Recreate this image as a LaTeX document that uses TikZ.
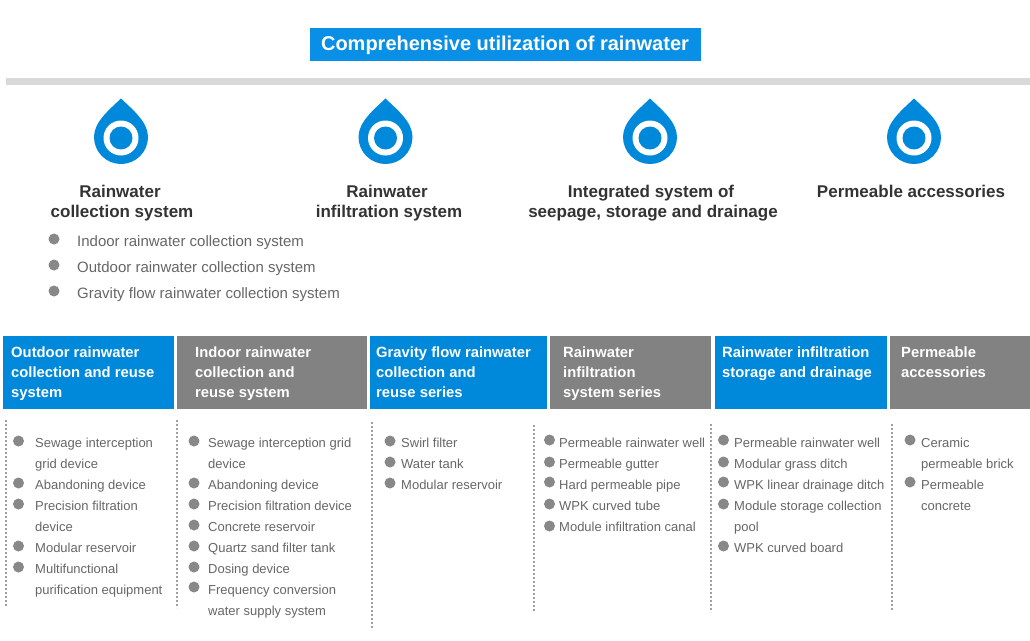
\documentclass[tikz,border=0pt]{standalone}
\usepackage{fontspec}
\setmainfont{Liberation Sans}
\definecolor{rainblue}{HTML}{0089DB}
\definecolor{titleblue}{HTML}{0A8FE6}
\definecolor{headgray}{HTML}{828282}
\definecolor{bulgray}{HTML}{888888}
\definecolor{itemgray}{HTML}{666666}
\tikzset{
	headbox/.style={rectangle,inner sep=0pt,minimum height=73pt,anchor=north west,text=white},
	headtext/.style={inner sep=0pt,anchor=base west,text=white,font=\fontsize{14.8}{20}\selectfont\bfseries},
	systitle/.style={inner sep=0pt,anchor=base,text=black!80,font=\fontsize{17}{20}\selectfont\bfseries},
	itemtext/.style={inner sep=0pt,anchor=base west,text=itemgray,font=\fontsize{13}{21}\selectfont},
	bigitem/.style={inner sep=0pt,anchor=base west,text=itemgray,font=\fontsize{15}{21}\selectfont},
	bul/.style={circle,fill=bulgray,inner sep=0pt,minimum size=11pt},
	sepline/.style={bulgray!80,line width=1.5pt,dash pattern=on 2pt off 2pt},
	dropicon/.pic={
		\fill[rainblue] (0,-38.5) .. controls (-12,-27) and (-27,-15) .. (-27,0)
			arc[start angle=180,end angle=0,radius=27]
			.. controls (27,-15) and (12,-27) .. (0,-38.5) -- cycle;
		\fill[white] (0,1) circle (17.5);
		\fill[rainblue] (0,1) circle (11.5);
	}
}
\begin{document}
\begin{tikzpicture}[x=1pt,y=-1pt]
	\useasboundingbox (0,0) rectangle (1030,640);

	\node [rectangle,fill=titleblue,minimum width=391pt,minimum height=33pt,inner sep=0pt,anchor=north west] (titlebox) at (310,28) {};
	\node [inner sep=0pt,text=white,font=\fontsize{20}{24}\selectfont\bfseries] (titletext) at (505,45) {Comprehensive utilization of rainwater};
	\fill[black!15] (6,78) rectangle (1030,85);

	\pic at (121,137) {dropicon};
	\pic at (385.5,137) {dropicon};
	\pic at (650,137) {dropicon};
	\pic at (914,137) {dropicon};

	\node [systitle] (sysa1) at (120,197) {Rainwater};
	\node [systitle] (sysa2) at (122,217) {collection system};
	\node [systitle] (sysb1) at (387,197) {Rainwater};
	\node [systitle] (sysb2) at (389,217) {infiltration system};
	\node [systitle] (sysc1) at (651,197) {Integrated system of};
	\node [systitle] (sysc2) at (653,217) {seepage, storage and drainage};
	\node [systitle] (sysd1) at (911,197) {Permeable accessories};

	\foreach \n/\y/\t in {1/239/Indoor rainwater collection system,2/265/Outdoor rainwater collection system,3/291/Gravity flow rainwater collection system}{
		\node [bul] (topbul\n) at (54,\y) {};
		\node [bigitem] (topitem\n) at (77,\y+7) {\t};
	}

	% header row
	\node [headbox,fill=rainblue,minimum width=171pt] (heada) at (3,336) {};
	\node [headbox,fill=headgray,minimum width=190pt] (headb) at (177,336) {};
	\node [headbox,fill=rainblue,minimum width=177pt] (headc) at (370,336) {};
	\node [headbox,fill=headgray,minimum width=161pt] (headd) at (550,336) {};
	\node [headbox,fill=rainblue,minimum width=172pt] (heade) at (715,336) {};
	\node [headbox,fill=headgray,minimum width=140pt] (headf) at (890,336) {};

	\foreach \n/\x/\y/\t in {a1/11/357.5/Outdoor rainwater,a2/11/377.5/collection and reuse,a3/11/397.5/system,
		b1/195/357.5/Indoor rainwater,b2/195/377.5/collection and,b3/195/397.5/reuse system,
		c1/376/357.5/Gravity flow rainwater,c2/376/377.5/collection and,c3/376/397.5/reuse series,
		d1/563/357.5/Rainwater,d2/563/377.5/infiltration,d3/563/397.5/system series,
		e1/722/357.5/Rainwater infiltration,e2/722/377.5/storage and drainage,
		f1/901/357.5/Permeable,f2/901/377.5/accessories}
		\node [headtext] (headtext\n) at (\x,\y) {\t};

	% dotted separators
	\draw[sepline] (6,420) -- (6,606);
	\draw[sepline] (177,420) -- (177,608);
	\draw[sepline] (372,422) -- (372,630);
	\draw[sepline] (534,425) -- (534,612);
	\draw[sepline] (711,424) -- (711,612);
	\draw[sepline] (892,424) -- (892,610);

	% first column
	\foreach \n/\y in {1/441,2/483,3/504,4/546,5/567}
		\node [bul] (bula\n) at (18.5,\y) {};
	\foreach \n/\y/\t in {1/447/Sewage interception,2/468/grid device,3/489/Abandoning device,4/510/Precision filtration,5/531/device,6/552/Modular reservoir,7/573/Multifunctional,8/594/purification equipment}
		\node [itemtext] (itema\n) at (35,\y) {\t};

	% second column
	\foreach \n/\y in {1/441,2/483,3/504,4/525,5/546,6/567,7/587}
		\node [bul] (bulb\n) at (194,\y) {};
	\foreach \n/\y/\t in {1/447/Sewage interception grid,2/468/device,3/489/Abandoning device,4/510/Precision filtration device,5/531/Concrete reservoir,6/552/Quartz sand filter tank,7/573/Dosing device,8/594/Frequency conversion,9/615/water supply system}
		\node [itemtext] (itemb\n) at (208,\y) {\t};

	% third column
	\foreach \n/\y in {1/441,2/462,3/483}
		\node [bul] (bulc\n) at (390,\y) {};
	\foreach \n/\y/\t in {1/447/Swirl filter,2/468/Water tank,3/489/Modular reservoir}
		\node [itemtext] (itemc\n) at (401,\y) {\t};

	% fourth column
	\foreach \n/\y in {1/440,2/462,3/482,4/504,5/526}
		\node [bul] (buld\n) at (549.5,\y) {};
	\foreach \n/\y/\t in {1/447/Permeable rainwater well,2/468/Permeable gutter,3/489/Hard permeable pipe,4/510/WPK curved tube,5/531/Module infiltration canal}
		\node [itemtext] (itemd\n) at (559,\y) {\t};

	% fifth column
	\foreach \n/\y in {1/440,2/462,3/482,4/504,5/546}
		\node [bul] (bule\n) at (723.5,\y) {};
	\foreach \n/\y/\t in {1/447/Permeable rainwater well,2/468/Modular grass ditch,3/489/WPK linear drainage ditch,4/510/Module storage collection,5/531/pool,6/552/WPK curved board}
		\node [itemtext] (iteme\n) at (734,\y) {\t};

	% last column
	\foreach \n/\y in {1/440,2/482}
		\node [bul] (bulf\n) at (910,\y) {};
	\foreach \n/\y/\t in {1/447/Ceramic,2/468/permeable brick,3/489/Permeable,4/510/concrete}
		\node [itemtext] (itemf\n) at (921,\y) {\t};
\end{tikzpicture}
\end{document}
